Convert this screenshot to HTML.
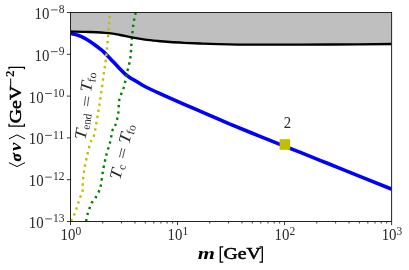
<!DOCTYPE html>
<html><head><meta charset="utf-8"><title>plot</title>
<style>html,body{margin:0;padding:0;background:#fff;width:409px;height:270px;overflow:hidden}</style></head>
<body>
<svg width="409" height="270" viewBox="0 0 409 270" style="position:absolute;left:0;top:0;will-change:transform">
<rect width="409" height="270" fill="#fff"/>
<clipPath id="c"><rect x="70.5" y="12.5" width="321.1" height="209.0"/></clipPath>
<g clip-path="url(#c)">
<path d="M70.50,31.50 C73.75,31.58 83.60,31.72 90.00,32.00 C96.40,32.28 103.90,32.70 108.90,33.20 C113.90,33.70 115.93,34.27 120.00,35.00 C124.07,35.73 129.13,36.83 133.30,37.60 C137.47,38.37 140.92,39.03 145.00,39.60 C149.08,40.17 153.63,40.60 157.80,41.00 C161.97,41.40 165.60,41.70 170.00,42.00 C174.40,42.30 179.20,42.55 184.20,42.80 C189.20,43.05 194.28,43.28 200.00,43.50 C205.72,43.72 209.72,43.90 218.50,44.10 C227.28,44.30 240.78,44.60 252.70,44.70 C264.62,44.80 277.12,44.73 290.00,44.70 C302.88,44.67 313.00,44.62 330.00,44.50 C347.00,44.38 381.67,44.08 392.00,44.00 L391.6,12.5 L70.5,12.5 Z" fill="#bfbfbf"/>
<path d="M70.50,33.30 C71.75,33.62 75.68,34.40 78.00,35.20 C80.32,36.00 82.40,37.05 84.40,38.10 C86.40,39.15 87.95,40.15 90.00,41.50 C92.05,42.85 94.87,44.85 96.70,46.20 C98.53,47.55 99.83,48.65 101.00,49.60 C102.17,50.55 102.53,50.78 103.70,51.90 C104.87,53.02 106.28,54.52 108.00,56.30 C109.72,58.08 112.00,60.50 114.00,62.60 C116.00,64.70 118.33,67.17 120.00,68.90 C121.67,70.63 122.97,71.98 124.00,73.00 C125.03,74.02 125.37,74.35 126.20,75.00 C127.03,75.65 127.70,76.07 129.00,76.90 C130.30,77.73 131.73,78.62 134.00,80.00 C136.27,81.38 139.93,83.70 142.60,85.20 C145.27,86.70 147.10,87.60 150.00,89.00 C152.90,90.40 154.30,91.05 160.00,93.60 C165.70,96.15 177.53,101.37 184.20,104.30 C190.87,107.23 194.28,108.72 200.00,111.20 C205.72,113.68 213.50,117.03 218.50,119.20 C223.50,121.37 223.08,121.35 230.00,124.20 C236.92,127.05 250.00,132.28 260.00,136.30 C270.00,140.32 280.00,144.30 290.00,148.30 C300.00,152.30 311.67,156.97 320.00,160.30 C328.33,163.63 328.00,163.47 340.00,168.30 C352.00,173.13 383.33,185.80 392.00,189.30" fill="none" stroke="#0000ff" stroke-width="3.6"/>
<path d="M110.10,12.00 C109.50,18.92 107.52,43.43 106.50,53.50 C105.48,63.57 104.92,65.58 104.00,72.40 C103.08,79.22 102.02,87.47 101.00,94.40 C99.98,101.33 99.03,107.27 97.90,114.00 C96.77,120.73 95.42,130.10 94.20,134.80 C92.98,139.50 91.73,138.93 90.60,142.20 C89.47,145.47 88.43,149.93 87.40,154.40 C86.37,158.87 85.18,164.10 84.40,169.00 C83.62,173.90 83.02,180.13 82.70,183.80 C82.38,187.47 82.90,188.80 82.50,191.00 C82.10,193.20 81.00,195.00 80.30,197.00 C79.60,199.00 78.95,201.02 78.30,203.00 C77.65,204.98 77.08,206.95 76.40,208.90 C75.72,210.85 74.98,212.87 74.20,214.70 C73.42,216.53 72.23,218.77 71.70,219.90 C71.17,221.03 71.12,221.23 71.00,221.50" fill="none" stroke="#bfbf00" stroke-width="2.4" stroke-dasharray="2.4 3.9" stroke-dashoffset="-3.8"/>
<path d="M135.80,12.00 C135.38,14.12 134.00,19.73 133.30,24.70 C132.60,29.67 132.12,36.10 131.60,41.80 C131.08,47.50 131.05,53.40 130.20,58.90 C129.35,64.40 127.53,70.12 126.50,74.80 C125.47,79.48 125.18,82.92 124.00,87.00 C122.82,91.08 120.37,94.80 119.40,99.30 C118.43,103.80 118.93,109.52 118.20,114.00 C117.47,118.48 115.93,123.53 115.00,126.20 C114.07,128.87 113.42,127.33 112.60,130.00 C111.78,132.67 111.12,138.13 110.10,142.20 C109.08,146.27 107.63,149.93 106.50,154.40 C105.37,158.87 104.25,163.83 103.30,169.00 C102.35,174.17 101.50,181.73 100.80,185.40 C100.10,189.07 99.90,189.07 99.10,191.00 C98.30,192.93 97.22,195.05 96.00,197.00 C94.78,198.95 92.92,200.72 91.80,202.70 C90.68,204.68 90.03,206.90 89.30,208.90 C88.57,210.90 87.88,212.87 87.40,214.70 C86.92,216.53 86.60,218.77 86.40,219.90 C86.20,221.03 86.23,221.23 86.20,221.50" fill="none" stroke="#008000" stroke-width="2.4" stroke-dasharray="2.4 3.9" stroke-dashoffset="-0.4"/>
<path d="M70.50,31.50 C73.75,31.58 83.60,31.72 90.00,32.00 C96.40,32.28 103.90,32.70 108.90,33.20 C113.90,33.70 115.93,34.27 120.00,35.00 C124.07,35.73 129.13,36.83 133.30,37.60 C137.47,38.37 140.92,39.03 145.00,39.60 C149.08,40.17 153.63,40.60 157.80,41.00 C161.97,41.40 165.60,41.70 170.00,42.00 C174.40,42.30 179.20,42.55 184.20,42.80 C189.20,43.05 194.28,43.28 200.00,43.50 C205.72,43.72 209.72,43.90 218.50,44.10 C227.28,44.30 240.78,44.60 252.70,44.70 C264.62,44.80 277.12,44.73 290.00,44.70 C302.88,44.67 313.00,44.62 330.00,44.50 C347.00,44.38 381.67,44.08 392.00,44.00" fill="none" stroke="#000" stroke-width="2.3"/>
</g>
<rect x="279.6" y="139.2" width="10.6" height="10.6" fill="#bfbf00"/>
<rect x="70.5" y="12.5" width="321.1" height="209.0" fill="none" stroke="#222" stroke-width="1"/>
<path d="M70.50,221.5v3.6 M102.72,221.5v2 M121.57,221.5v2 M134.94,221.5v2 M145.31,221.5v2 M153.79,221.5v2 M160.95,221.5v2 M167.16,221.5v2 M172.64,221.5v2 M177.53,221.5v3.6 M209.75,221.5v2 M228.60,221.5v2 M241.97,221.5v2 M252.35,221.5v2 M260.82,221.5v2 M267.99,221.5v2 M274.19,221.5v2 M279.67,221.5v2 M284.57,221.5v3.6 M316.79,221.5v2 M335.63,221.5v2 M349.01,221.5v2 M359.38,221.5v2 M367.85,221.5v2 M375.02,221.5v2 M381.23,221.5v2 M386.70,221.5v2 M391.60,221.5v3.6 M70.5,221.50h-3.6 M70.5,179.70h-3.6 M70.5,137.90h-3.6 M70.5,96.10h-3.6 M70.5,54.30h-3.6 M70.5,12.50h-3.6" stroke="#222" stroke-width="0.9" fill="none"/>
<text transform="translate(28.75,228.00) scale(0.89,1)" font-family="Liberation Serif, serif" font-size="16.7" fill="#2a2a2a">10</text>
<rect x="45.20" y="218.50" width="6.7" height="0.8" fill="#2a2a2a"/>
<text x="53.10" y="222.20" font-family="Liberation Serif, serif" font-size="11.5" fill="#2a2a2a">13</text>
<text transform="translate(28.75,186.20) scale(0.89,1)" font-family="Liberation Serif, serif" font-size="16.7" fill="#2a2a2a">10</text>
<rect x="45.20" y="176.70" width="6.7" height="0.8" fill="#2a2a2a"/>
<text x="53.10" y="180.40" font-family="Liberation Serif, serif" font-size="11.5" fill="#2a2a2a">12</text>
<text transform="translate(28.75,144.40) scale(0.89,1)" font-family="Liberation Serif, serif" font-size="16.7" fill="#2a2a2a">10</text>
<rect x="45.20" y="134.90" width="6.7" height="0.8" fill="#2a2a2a"/>
<text x="53.10" y="138.60" font-family="Liberation Serif, serif" font-size="11.5" fill="#2a2a2a">11</text>
<text transform="translate(28.75,102.60) scale(0.89,1)" font-family="Liberation Serif, serif" font-size="16.7" fill="#2a2a2a">10</text>
<rect x="45.20" y="93.10" width="6.7" height="0.8" fill="#2a2a2a"/>
<text x="53.10" y="96.80" font-family="Liberation Serif, serif" font-size="11.5" fill="#2a2a2a">10</text>
<text transform="translate(34.50,60.80) scale(0.89,1)" font-family="Liberation Serif, serif" font-size="16.7" fill="#2a2a2a">10</text>
<rect x="50.95" y="51.30" width="6.7" height="0.8" fill="#2a2a2a"/>
<text x="58.85" y="55.00" font-family="Liberation Serif, serif" font-size="11.5" fill="#2a2a2a">9</text>
<text transform="translate(34.50,19.00) scale(0.89,1)" font-family="Liberation Serif, serif" font-size="16.7" fill="#2a2a2a">10</text>
<rect x="50.95" y="9.50" width="6.7" height="0.8" fill="#2a2a2a"/>
<text x="58.85" y="13.20" font-family="Liberation Serif, serif" font-size="11.5" fill="#2a2a2a">8</text>
<text transform="translate(60.55,240.20) scale(0.89,1)" font-family="Liberation Serif, serif" font-size="16.7" fill="#2a2a2a">10</text>
<text x="75.40" y="234.50" font-family="Liberation Serif, serif" font-size="11.5" fill="#2a2a2a">0</text>
<text transform="translate(167.58,240.20) scale(0.89,1)" font-family="Liberation Serif, serif" font-size="16.7" fill="#2a2a2a">10</text>
<text x="182.43" y="234.50" font-family="Liberation Serif, serif" font-size="11.5" fill="#2a2a2a">1</text>
<text transform="translate(274.62,240.20) scale(0.89,1)" font-family="Liberation Serif, serif" font-size="16.7" fill="#2a2a2a">10</text>
<text x="289.47" y="234.50" font-family="Liberation Serif, serif" font-size="11.5" fill="#2a2a2a">2</text>
<text transform="translate(381.65,240.20) scale(0.89,1)" font-family="Liberation Serif, serif" font-size="16.7" fill="#2a2a2a">10</text>
<text x="396.50" y="234.50" font-family="Liberation Serif, serif" font-size="11.5" fill="#2a2a2a">3</text>
<text transform="translate(287.4,128.2) scale(0.89,1)" text-anchor="middle" font-family="Liberation Serif, serif" font-size="16.7" fill="#2a2a2a">2</text>
<text transform="translate(197.76,258.80) scale(1.38,1)" font-family="Liberation Serif, serif" font-size="16" fill="#000" font-weight="bold" font-style="italic">m</text>
<path d="M223.3,246.8H220.3V262.2H223.3 M259.5,246.8H262.3V262.2H259.5" fill="none" stroke="#000" stroke-width="1.3"/>
<text transform="translate(223.41,258.80) scale(1.12,1)" font-family="Liberation Serif, serif" font-size="17.7" fill="#000" stroke="#000" stroke-width="0.55">GeV</text>
<g transform="translate(21.4,167.5) rotate(-90)">
<path d="M4.9,-12.5L0.9,-4.4L4.9,3.6 M28.6,-12.5L32.6,-4.4L28.6,3.6" fill="none" stroke="#000" stroke-width="1.0"/>
<text transform="translate(5.93,0.00) scale(1.04,1)" font-family="Liberation Serif, serif" font-size="15" fill="#000" font-weight="bold" font-style="italic" stroke="#000" stroke-width="0.5">σ</text>
<text transform="translate(16.41,0.00) scale(1.18,1)" font-family="Liberation Serif, serif" font-size="16" fill="#000" font-weight="bold" font-style="italic">v</text>
<path d="M43.8,-12.4H41.4V3.0H43.8 M98.3,-12.4H100.2V3.0H98.3" fill="none" stroke="#000" stroke-width="1.3"/>
<text transform="translate(44.31,0.00) scale(1.12,1)" font-family="Liberation Serif, serif" font-size="17.7" fill="#000" stroke="#000" stroke-width="0.55">GeV</text>
<rect x="81.1" y="-11.2" width="7.9" height="1.0" fill="#000"/>
<text transform="translate(90.38,-7.40) scale(1.05,1)" font-family="Liberation Serif, serif" font-size="12.4" fill="#000" font-weight="bold">2</text>
</g>
<g transform="translate(85.6,140.3) rotate(-82)">
<text transform="translate(0.00,0.00) scale(1.15,1)" font-family="Liberation Serif, serif" font-size="16.7" fill="#2a2a2a" font-style="italic">T</text>
<text transform="translate(10.86,2.50) scale(0.95,1)" font-family="Liberation Serif, serif" font-size="11.5" fill="#2a2a2a" >end</text>
<path d="M34.15,-6.10h9.5 M34.15,-2.90h9.5" stroke="#2a2a2a" stroke-width="0.75" fill="none"/>
<text transform="translate(47.80,-1.20) scale(1.15,1)" font-family="Liberation Serif, serif" font-size="16.7" fill="#2a2a2a" font-style="italic">T</text>
<text transform="translate(58.45,1.50) scale(1.0,1)" font-family="Liberation Serif, serif" font-size="11.5" fill="#2a2a2a" >fo</text>
</g>
<g transform="translate(120.03,180.38) rotate(-76)">
<text transform="translate(0.00,0.00) scale(1.15,1)" font-family="Liberation Serif, serif" font-size="16.7" fill="#2a2a2a" font-style="italic">T</text>
<text transform="translate(10.84,2.50) scale(1.0,1)" font-family="Liberation Serif, serif" font-size="11.5" fill="#2a2a2a" >c</text>
<path d="M22.21,-6.10h9.5 M22.21,-2.90h9.5" stroke="#2a2a2a" stroke-width="0.75" fill="none"/>
<text transform="translate(36.60,0.00) scale(1.15,1)" font-family="Liberation Serif, serif" font-size="16.7" fill="#2a2a2a" font-style="italic">T</text>
<text transform="translate(47.05,2.50) scale(1.0,1)" font-family="Liberation Serif, serif" font-size="11.5" fill="#2a2a2a" >fo</text>
</g>
</svg>
</body></html>
